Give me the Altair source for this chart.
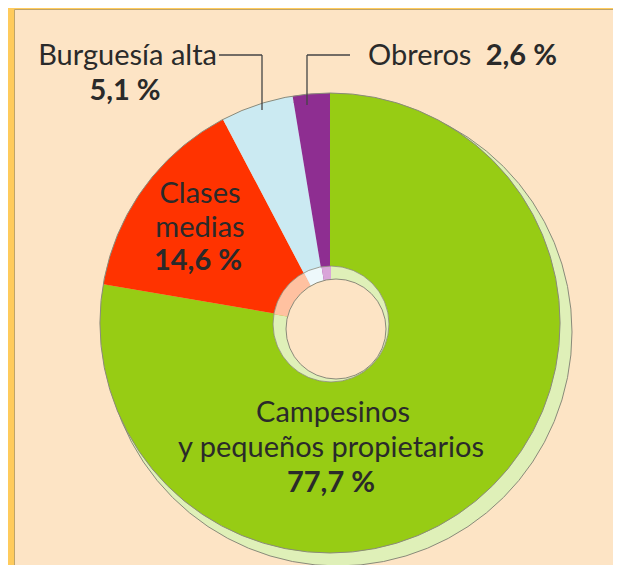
import math
import altair as alt
import pandas as pd

# ---- data ----
categories = ["Campesinos y pequeños propietarios", "Clases medias", "Burguesía alta", "Obreros"]
values = [77.7, 14.6, 5.1, 2.6]
colors = ["#97CC14", "#FF3300", "#CBEAF2", "#8E2E91"]
light_colors = ["#DFF0B8", "#FFC1A0", "#EEF8FB", "#D9A5D9"]

label_camp = ["Campesinos", "y pequeños propietarios"]
pct_camp = "77,7 %"
label_clases = ["Clases", "medias"]
pct_clases = "14,6 %"
label_burg = "Burguesía alta"
pct_burg = "5,1 %"
label_obr = "Obreros"
pct_obr = "2,6 %"

df = pd.DataFrame({
    "cat": categories,
    "value": values,
    "order": list(range(len(categories))),
    "color": colors,
    "light": light_colors,
})

W, H = 599, 556
CX, CY, R = 316, 314, 230
FONT = "Lato"
FS = 29
TXT = "#2a2a2a"
EDGE = "#8a8a7a"

base = alt.Chart(df)


def pie(cx, cy, r, field):
    return base.mark_arc(radius=r, strokeWidth=0).encode(
        theta=alt.Theta("value:Q", stack=True),
        order=alt.Order("order:Q"),
        color=alt.Color(f"{field}:N", scale=None),
        x=alt.value(cx),
        y=alt.value(cy),
    )


one = alt.Chart(pd.DataFrame({"k": [0]}))


def disc(cx, cy, r, fill, stroke, sw=1.0):
    return one.mark_arc(radius=r, theta=0, theta2=2 * math.pi, fill=fill,
                        stroke=stroke, strokeWidth=sw).encode(
        x=alt.value(cx), y=alt.value(cy))


def ring(cx, cy, r, stroke, sw=1.0):
    return one.mark_arc(radius=r, theta=0, theta2=2 * math.pi, fill="transparent",
                        stroke=stroke, strokeWidth=sw).encode(
        x=alt.value(cx), y=alt.value(cy))


def txt(s, x, y, bold=False, align="center"):
    return alt.Chart(pd.DataFrame({"t": [s]})).mark_text(
        font=FONT, fontSize=FS, fontWeight="bold" if bold else "normal",
        color=TXT, align=align, baseline="alphabetic").encode(
        text="t:N", x=alt.value(x), y=alt.value(y))


def rule(x1, y1, x2, y2):
    return one.mark_rule(color="#444444", strokeWidth=1.3).encode(
        x=alt.value(x1), x2=alt.value(x2), y=alt.value(y1), y2=alt.value(y2))


layers = [
    # 3D side (shadow) of the ring
    pie(CX + 8, CY + 9, R + 4, "light"),
    ring(CX + 8, CY + 9, R + 4, EDGE),
    # top face
    pie(CX, CY, R, "color"),
    ring(CX, CY, R, EDGE),
    # inner wall
    pie(CX + 1, CY + 1, 58, "light"),
    ring(CX + 1, CY + 1, 58, EDGE, 0.8),
    # hole
    disc(CX + 6, CY + 6, 50, "#FDE4C5", EDGE),
    # connectors
    rule(205, 46, 248, 46),
    rule(248, 46, 248, 101),
    rule(293, 46, 336, 46),
    rule(293, 46, 293, 96),
    # labels
    txt(label_burg, 203, 56, align="right"),
    txt(pct_burg, 111, 91, bold=True),
    txt(label_obr, 354, 56, align="left"),
    txt(pct_obr, 543, 56, bold=True, align="right"),
    txt(label_clases[0], 186, 194),
    txt(label_clases[1], 186, 228),
    txt(pct_clases, 184, 261, bold=True),
    txt(label_camp[0], 319, 413),
    txt(label_camp[1], 317, 448),
    txt(pct_camp, 317, 483, bold=True),
]

chart = alt.layer(*layers).properties(
    width=W, height=H,
    background="#FFCB5C",
    padding={"left": 6, "top": 1, "right": 0, "bottom": 0},
    autosize="none",
).configure_view(fill="#FDE4C5", stroke="#BFA46A", strokeWidth=1)

chart.save("out.html", embed_options={"renderer": "svg", "actions": False})
